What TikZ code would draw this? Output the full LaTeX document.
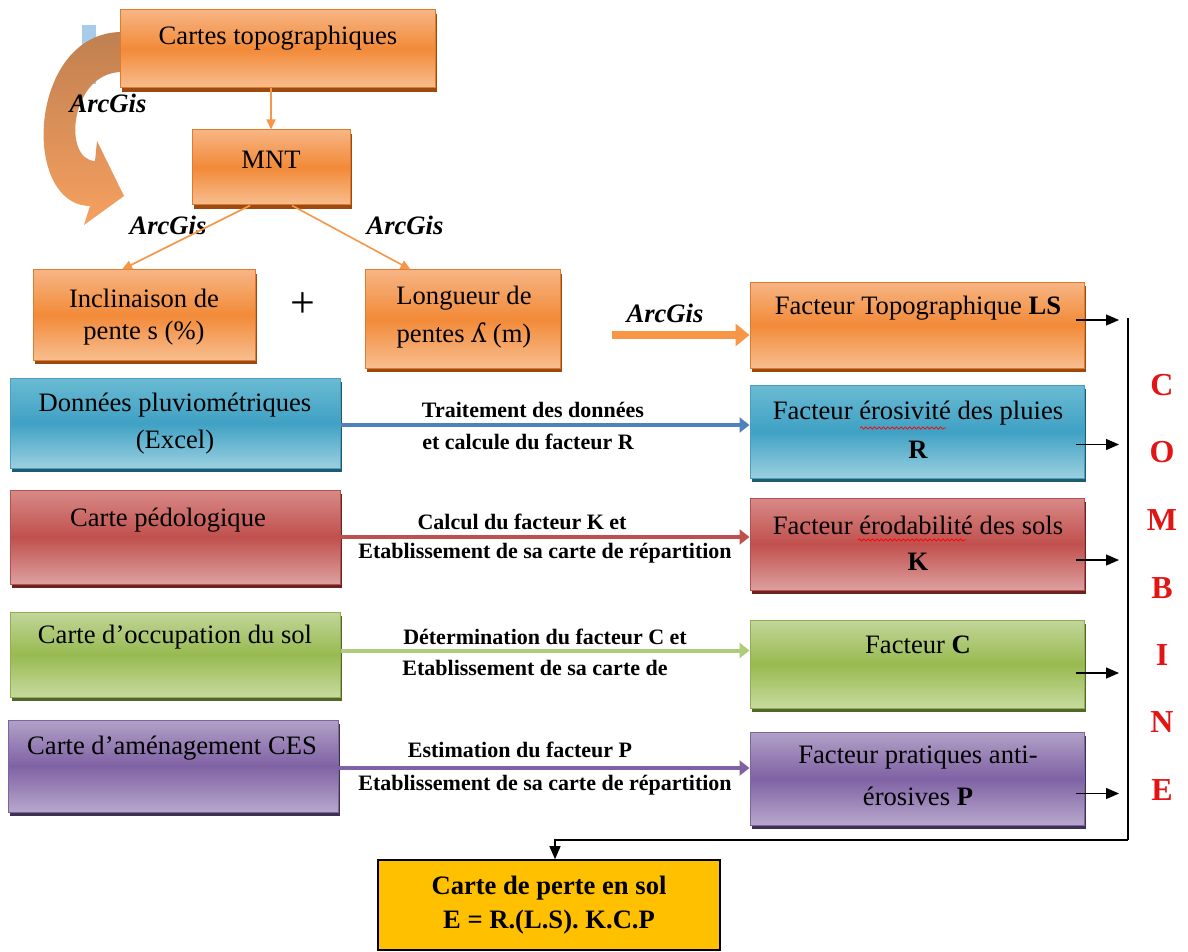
\documentclass[tikz,border=0pt]{standalone}
\usepackage{fontspec}
\setmainfont{Liberation Serif}
\newfontfamily\ipafont{DejaVu Serif}
\usetikzlibrary{arrows.meta,shadows,fit,decorations.pathmorphing}
\definecolor{orT}{HTML}{F7B584}
\definecolor{orM}{HTML}{F28A38}
\definecolor{orB}{HTML}{F8BE90}
\definecolor{orD}{HTML}{E07B2E}
\definecolor{orS}{HTML}{9C4A10}
\definecolor{blT}{HTML}{6BBBD3}
\definecolor{blM}{HTML}{3FA1C4}
\definecolor{blB}{HTML}{9BD0E0}
\definecolor{blD}{HTML}{4A9EBF}
\definecolor{blS}{HTML}{1F5B6E}
\definecolor{rdT}{HTML}{D88A88}
\definecolor{rdM}{HTML}{C0504D}
\definecolor{rdB}{HTML}{DDA0A0}
\definecolor{rdD}{HTML}{B5504D}
\definecolor{rdS}{HTML}{6B2220}
\definecolor{grT}{HTML}{C2D69A}
\definecolor{grM}{HTML}{98BA50}
\definecolor{grB}{HTML}{C7DA9F}
\definecolor{grD}{HTML}{8FB050}
\definecolor{grS}{HTML}{52672A}
\definecolor{puT}{HTML}{B2A1C7}
\definecolor{puM}{HTML}{7F62A4}
\definecolor{puB}{HTML}{B8A8CC}
\definecolor{puD}{HTML}{7A65A0}
\definecolor{puS}{HTML}{3F3151}
\definecolor{arBlue}{HTML}{4F81BD}
\definecolor{arOr}{HTML}{F79646}
\definecolor{gold}{HTML}{FFC000}
\definecolor{combRed}{HTML}{E31414}
\definecolor{bandTop}{HTML}{C08050}
\definecolor{bandBot}{HTML}{F6A060}
\definecolor{paleBlue}{HTML}{A9CBEA}
\tikzset{
  boxbase/.style={rectangle, inner sep=0pt, line width=0.5pt},
  obox/.style={boxbase, draw=orD, top color=orT, bottom color=orB, middle color=orM,
    drop shadow={shadow xshift=1pt, shadow yshift=-1.8pt, fill=orS, opacity=1}},
  bbox/.style={boxbase, draw=blD, top color=blT, bottom color=blB, middle color=blM,
    drop shadow={shadow xshift=1pt, shadow yshift=-1.8pt, fill=blS, opacity=1}},
  rbx/.style={boxbase, draw=rdD, top color=rdT, bottom color=rdB, middle color=rdM,
    drop shadow={shadow xshift=1pt, shadow yshift=-1.8pt, fill=rdS, opacity=1}},
  gbox/.style={boxbase, draw=grD, top color=grT, bottom color=grB, middle color=grM,
    drop shadow={shadow xshift=1pt, shadow yshift=-1.8pt, fill=grS, opacity=1}},
  pbx/.style={boxbase, draw=puD, top color=puT, bottom color=puB, middle color=puM,
    drop shadow={shadow xshift=1pt, shadow yshift=-1.8pt, fill=puS, opacity=1}},
  finbox/.style={boxbase, draw=black, line width=0.8pt, fill=gold},
  txt/.style={inner sep=0pt, font=\fontsize{13.3}{16}\selectfont},
  btxt/.style={inner sep=0pt, font=\bfseries\fontsize{13.3}{16}\selectfont},
  mlab/.style={inner sep=0pt, font=\bfseries\fontsize{11}{13}\selectfont},
  arc/.style={inner sep=0pt, font=\bfseries\itshape\fontsize{13.3}{16}\selectfont},
  comb/.style={inner sep=0pt, text=combRed, font=\bfseries\fontsize{16}{18}\selectfont},
  thinor/.style={draw=arOr, line width=0.8pt, -{Triangle[width=4.5pt,length=5pt]}},
  thickor/.style={draw=arOr, line width=4pt, -{Triangle[width=11pt,length=7pt]}},
  colar/.style={line width=2pt, -{Triangle[width=7.5pt,length=5pt]}},
  blk/.style={draw=black, line width=0.6pt, -{Triangle[width=5.5pt,length=6.5pt]}},
  blkline/.style={draw=black, line width=0.7pt},
  squig/.style={draw=red, line width=0.35pt, decorate, decoration={snake, amplitude=0.6pt, segment length=2.2pt}}
}
\begin{document}
\begin{tikzpicture}[x=0.5pt,y=-0.5pt]
\useasboundingbox (0,0) rectangle (1188,952);
\fill[white] (0,0) rectangle (1188,952);

% pale blue remnant and curved block arrow
\fill[paleBlue] (82,25) rectangle (96,84);
\shade[top color=bandTop, bottom color=bandBot]
  (122,32) .. controls (28,32) and (20,205) .. (90,206) -- (84,225) -- (124,196) -- (97,141)
  -- (95,161) .. controls (62,160) and (70,72) .. (122,72) -- cycle;

% boxes
\node[obox, fit={(120,10) (435,88)}] (topo) {};
\node[obox, fit={(192,130) (350,205)}] (mnt) {};
\node[obox, fit={(33,270) (255,360)}] (incl) {};
\node[obox, fit={(365,270) (560,368)}] (long) {};
\node[obox, fit={(750,282) (1084,368)}] (ls) {};
\node[bbox, fit={(10,378) (340,468)}] (pluv) {};
\node[bbox, fit={(750,385) (1084,478)}] (rbox) {};
\node[rbx, fit={(10,490) (340,584)}] (ped) {};
\node[rbx, fit={(750,498) (1084,590)}] (kbox) {};
\node[gbox, fit={(10,612) (340,697)}] (occ) {};
\node[gbox, fit={(750,620) (1084,708)}] (cbox) {};
\node[pbx, fit={(8,720) (338,812)}] (ces) {};
\node[pbx, fit={(750,732) (1084,825)}] (pbox) {};
\node[finbox, fit={(378,860) (720,950)}] (fin) {};

% box texts
\node[txt] (topoT) at (278,38) {Cartes topographiques};
\node[txt] (mntT) at (271,160) {MNT};
\node[txt] (inclT1) at (144,298) {Inclinaison de};
\node[txt] (inclT2) at (144,333) {pente s (\%)};
\node[txt] (longT1) at (464,298) {Longueur de};
\node[txt] (longT2) at (464,335) {pentes {\ipafont ʎ} (m)};
\node[txt] (lsT) at (918,308) {Facteur Topographique \textbf{LS}};
\node[txt] (pluvT1) at (175,405) {Données pluviométriques};
\node[txt] (pluvT2) at (175,442) {(Excel)};
\node[txt] (rT1) at (918,413) {Facteur érosivité des pluies};
\node[txt] (rT2) at (918,450) {\textbf{R}};
\node[txt] (pedT) at (168,520) {Carte pédologique};
\node[txt] (kT1) at (918,525) {Facteur érodabilité des sols};
\node[txt] (kT2) at (918,562) {\textbf{K}};
\node[txt] (occT) at (175,637) {Carte d’occupation du sol};
\node[txt] (cT) at (918,645) {Facteur \textbf{C}};
\node[txt] (cesT) at (172,748) {Carte d’aménagement CES};
\node[txt] (pT1) at (918,758) {Facteur pratiques anti-};
\node[txt] (pT2) at (918,796) {érosives \textbf{P}};
\node[btxt] (finT1) at (549,888) {Carte de perte en sol};
\node[btxt] (finT2) at (549,922) {E = R.(L.S). K.C.P};

% spell-check squiggles
\draw[squig] (860,428) -- (946,428);
\draw[squig] (858,540) -- (966,540);

% plus sign
\node[inner sep=0pt, font=\fontsize{22}{24}\selectfont] (plus) at (303,305) {+};

% ArcGis labels
\node[arc] (arc1) at (108,103) {ArcGis};
\node[arc] (arc2) at (168,225) {ArcGis};
\node[arc] (arc3) at (405,225) {ArcGis};
\node[arc] (arc4) at (665,313) {ArcGis};

% orange connectors
\draw[thinor] (mnt.north |- topo.south) -- (mnt.north);
\draw[thinor] ([xshift=-10.5pt]mnt.south) -- ([xshift=-11pt]incl.north);
\draw[thinor] ([xshift=10.5pt]mnt.south) -- ([xshift=-26pt]long.north);
\coordinate (lsStart) at (612,335);
\draw[thickor] (lsStart) -- (lsStart -| ls.west);

% coloured process arrows
\draw[colar, draw=arBlue] ([yshift=-1pt]pluv.east) -- ([yshift=-1pt]pluv.east -| rbox.west);
\draw[colar, draw=rdM] (ped.east) -- (ped.east -| kbox.west);
\draw[colar, draw=grT!60!grM] ([yshift=2pt]occ.east) -- ([yshift=2pt]occ.east -| cbox.west);
\draw[colar, draw=puM] ([yshift=-1pt]ces.east) -- ([yshift=-1pt]ces.east -| pbox.west);

% process labels
\node[mlab] (l1a) at (533,410) {Traitement des données};
\node[mlab] (l1b) at (528,442) {et calcule du facteur R};
\node[mlab] (l2a) at (522,522) {Calcul du facteur K et};
\node[mlab] (l2b) at (545,553) {Etablissement de sa carte de répartition};
\node[mlab] (l3a) at (545,637) {Détermination du facteur C et};
\node[mlab] (l3b) at (535,668) {Etablissement de sa carte de};
\node[mlab] (l4a) at (520,750) {Estimation du facteur P};
\node[mlab] (l4b) at (545,785) {Etablissement de sa carte de répartition};

% combine bus
\coordinate (busT) at (1128,318);
\coordinate (busB) at (1128,840);
\draw[blkline] (busT) -- (busB);
\draw[blk] ([shift={(-9,-5)}]ls.east) -- ([shift={(-9,-5)}]ls.east -| busT);
\draw[blk] ([shift={(-9,13)}]rbox.east) -- ([shift={(-9,13)}]rbox.east -| busT);
\draw[blk] ([shift={(-9,16)}]kbox.east) -- ([shift={(-9,16)}]kbox.east -| busT);
\draw[blk] ([shift={(-9,9)}]cbox.east) -- ([shift={(-9,9)}]cbox.east -| busT);
\draw[blk] ([shift={(-9,15)}]pbox.east) -- ([shift={(-9,15)}]pbox.east -| busT);
\draw[blk] (busB) -| ([xshift=3pt]fin.north);

% COMBINE letters
\node[comb] (cC) at (1162,385) {C};
\node[comb] (cO) at (1162,452) {O};
\node[comb] (cM) at (1162,520) {M};
\node[comb] (cB) at (1162,588) {B};
\node[comb] (cI) at (1162,655) {I};
\node[comb] (cN) at (1162,722) {N};
\node[comb] (cE) at (1162,790) {E};
\end{tikzpicture}
\end{document}
